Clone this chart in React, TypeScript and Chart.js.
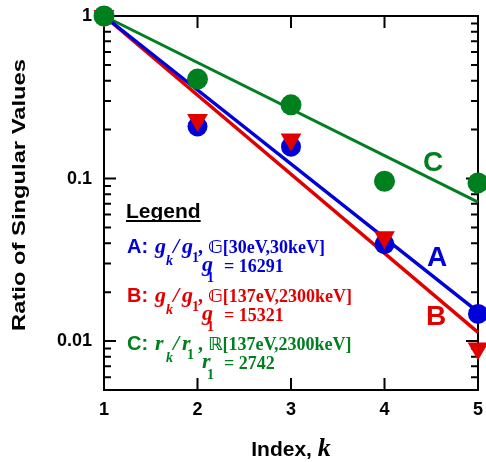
import React, { useEffect, useRef } from 'react';
import { Chart, registerables } from 'chart.js';

Chart.register(...registerables);

// ---- data ----
const indices = [1, 2, 3, 4, 5];
const ratioA = [1, 0.209, 0.157, 0.0394, 0.0147];
const ratioB = [1, 0.229, 0.174, 0.0436, 0.009];
const ratioC = [1, 0.409, 0.284, 0.0962, 0.094];
const fitK = [1, 5];
const fitA = [1, 0.0151];
const fitB = [1, 0.0113];
const fitC = [1, 0.0716];
const xTickValues = [1, 2, 3, 4, 5];
const yTickValues = [0.01, 0.1, 1];
const seriesLetters = ['A', 'B', 'C'];
const varLetters = ['g', 'g', 'r'];
const spaceLabels = ['\u{1D53E}[30eV,30keV]', '\u{1D53E}[137eV,2300keV]', '\u211D[137eV,2300keV]'];
const firstValues = ['16291', '15321', '2742'];

const BLUE = '#0000d8';
const RED = '#e00000';
const GREEN = '#007f1f';
const seriesColors = [BLUE, RED, GREEN];

const SANS = "'Liberation Sans', Arial, Helvetica, sans-serif";
const SERIF = "'Liberation Serif', 'Times New Roman', 'DejaVu Serif', 'DejaVu Sans', serif";

const pts = (xs: number[], ys: number[]) => xs.map((x, i) => ({ x, y: ys[i] }));

function txt(ctx: CanvasRenderingContext2D, s: string, x: number, y: number, font: string, color: string, align: CanvasTextAlign = 'left') {
  ctx.font = font;
  ctx.fillStyle = color;
  ctx.textAlign = align;
  ctx.textBaseline = 'alphabetic';
  ctx.fillText(s, x, y);
}

const decoPlugin = {
  id: 'deco',
  beforeDatasetsDraw(chart: any) {
    const { ctx, chartArea: a, scales } = chart;
    const xs = scales.x;
    const ys = scales.y;
    ctx.save();
    ctx.strokeStyle = '#000';
    ctx.lineWidth = 2;
    ctx.strokeRect(a.left, a.top, a.right - a.left, a.bottom - a.top);
    ctx.beginPath();
    for (const v of yTickValues) {
      const p = ys.getPixelForValue(v);
      ctx.moveTo(a.left, p); ctx.lineTo(a.left + 12, p);
      ctx.moveTo(a.right, p); ctx.lineTo(a.right - 12, p);
    }
    for (const d of [0.001, 0.01, 0.1]) {
      for (let m = 2; m <= 9; m++) {
        const v = m * d;
        if (v <= ys.min * 1.0001 || v >= ys.max) continue;
        const p = ys.getPixelForValue(v);
        ctx.moveTo(a.left, p); ctx.lineTo(a.left + 7, p);
        ctx.moveTo(a.right, p); ctx.lineTo(a.right - 7, p);
      }
    }
    for (const v of xTickValues) {
      if (v <= xs.min || v >= xs.max) continue;
      const p = xs.getPixelForValue(v);
      ctx.moveTo(p, a.bottom); ctx.lineTo(p, a.bottom - 12);
      ctx.moveTo(p, a.top); ctx.lineTo(p, a.top + 12);
    }
    ctx.stroke();
    ctx.restore();
  },
  afterDraw(chart: any) {
    const { ctx, chartArea: a } = chart;
    ctx.save();
    // y-axis title
    ctx.save();
    const cy = (a.top + a.bottom) / 2 - 8;
    ctx.translate(20, cy);
    ctx.rotate(-Math.PI / 2);
    ctx.font = `bold 19px ${SANS}`;
    const tw = ctx.measureText('Ratio of Singular Values').width;
    ctx.scale(272 / tw, 1);
    ctx.fillStyle = '#000';
    ctx.textAlign = 'center';
    ctx.textBaseline = 'middle';
    ctx.fillText('Ratio of Singular Values', 0, 0);
    ctx.restore();

    // x-axis title
    const cx = (a.left + a.right) / 2;
    ctx.font = `bold 21px ${SANS}`;
    const w1 = ctx.measureText('Index, ').width;
    ctx.font = `italic bold 26px ${SERIF}`;
    const w2 = ctx.measureText('k').width;
    const sx = cx - (w1 + w2) / 2;
    txt(ctx, 'Index, ', sx, 456, `bold 21px ${SANS}`, '#000');
    txt(ctx, 'k', sx + w1, 456, `italic bold 26px ${SERIF}`, '#000');

    // legend block
    txt(ctx, 'Legend', 126, 218, `bold 21px ${SANS}`, '#000');
    ctx.font = `bold 21px ${SANS}`;
    const lw = ctx.measureText('Legend').width;
    ctx.fillStyle = '#000';
    ctx.fillRect(126, 220, lw, 2);

    const x0 = 127;
    const baselines = [253, 302, 350];
    for (let i = 0; i < 3; i++) {
      const b = baselines[i];
      const c = seriesColors[i];
      const v = varLetters[i];
      const italic = `italic bold 22px ${SERIF}`;
      const sub = `italic bold 14px ${SERIF}`;
      const subN = `bold 14px ${SERIF}`;
      txt(ctx, seriesLetters[i] + ':', x0, b, `bold 20px ${SANS}`, c);
      txt(ctx, v, x0 + 28, b, italic, c);
      txt(ctx, 'k', x0 + 39, b + 12, sub, c);
      txt(ctx, '/', x0 + 46, b, italic, c);
      txt(ctx, v, x0 + 55, b, italic, c);
      txt(ctx, '1', x0 + (v === 'r' ? 60 : 65), b + 9, subN, c);
      txt(ctx, ',', x0 + 71, b, `bold 20px ${SERIF}`, c);
      txt(ctx, spaceLabels[i], x0 + 81, b, `bold 18px ${SERIF}`, c);
      txt(ctx, v, x0 + 75, b + 18, italic, c);
      txt(ctx, '1', x0 + 80, b + 29, subN, c);
      txt(ctx, '= ' + firstValues[i], x0 + 97, b + 19, `bold 18px ${SERIF}`, c);
    }

    // curve labels
    txt(ctx, 'A', 437, 266, `bold 28px ${SANS}`, BLUE, 'center');
    txt(ctx, 'B', 436, 325, `bold 28px ${SANS}`, RED, 'center');
    txt(ctx, 'C', 433, 171, `bold 28px ${SANS}`, GREEN, 'center');
    ctx.restore();
  },
};

export default function App() {
  const ref = useRef<HTMLCanvasElement | null>(null);
  useEffect(() => {
    if (!ref.current) return;
    const chart = new Chart(ref.current, {
      type: 'scatter',
      data: {
        datasets: [
          {
            label: 'C points', data: pts(indices, ratioC), backgroundColor: GREEN, borderColor: GREEN,
            pointRadius: 10.5, pointStyle: 'circle', borderWidth: 0, showLine: false, clip: false, order: 0,
          } as any,
          {
            label: 'B points', data: pts(indices, ratioB), backgroundColor: RED, borderColor: RED,
            pointRadius: 12, pointStyle: 'triangle', rotation: 180, borderWidth: 0, showLine: false, clip: false, order: 1,
          },
          {
            label: 'A points', data: pts(indices, ratioA), backgroundColor: BLUE, borderColor: BLUE,
            pointRadius: 10, pointStyle: 'circle', borderWidth: 0, showLine: false, clip: false, order: 2,
          },
          {
            label: 'A fit', data: pts(fitK, fitA), borderColor: BLUE, backgroundColor: BLUE,
            showLine: true, pointRadius: 0, borderWidth: 3.5, clip: false, order: 3,
          },
          {
            label: 'B fit', data: pts(fitK, fitB), borderColor: RED, backgroundColor: RED,
            showLine: true, pointRadius: 0, borderWidth: 3.5, clip: false, order: 4,
          },
          {
            label: 'C fit', data: pts(fitK, fitC), borderColor: GREEN, backgroundColor: GREEN,
            showLine: true, pointRadius: 0, borderWidth: 3, clip: false, order: 5,
          },
        ],
      },
      options: {
        animation: false,
        responsive: false,
        devicePixelRatio: 1,
        layout: { autoPadding: false, padding: { left: 0, right: 8, top: 16, bottom: 0 } },
        plugins: { legend: { display: false }, tooltip: { enabled: false }, title: { display: false } },
        scales: {
          x: {
            type: 'linear', min: 1, max: 5,
            afterBuildTicks: (s: any) => { s.ticks = xTickValues.map((value) => ({ value })); },
            afterFit: (s: any) => { s.height = 72; s.paddingLeft = 0; s.paddingRight = 0; },
            grid: { display: false, drawTicks: false },
            border: { display: false },
            ticks: { color: '#000', font: { family: SANS, size: 18, weight: 'bold' }, padding: 9, callback: (v: any) => String(v) },
          },
          y: {
            type: 'logarithmic', min: 0.005, max: 1,
            afterBuildTicks: (s: any) => { s.ticks = yTickValues.map((value) => ({ value })); },
            afterFit: (s: any) => { s.width = 104; s.paddingTop = 0; s.paddingBottom = 0; },
            grid: { display: false, drawTicks: false },
            border: { display: false },
            ticks: { color: '#000', font: { family: SANS, size: 18, weight: 'bold' }, padding: 12, callback: (v: any) => String(v) },
          },
        },
      } as any,
      plugins: [decoPlugin],
    });
    return () => chart.destroy();
  }, []);
  return (
    <div style={{ position: 'fixed', left: 0, top: 0, width: 486, height: 462, background: '#fff' }}>
      <canvas ref={ref} width={486} height={462} style={{ width: 486, height: 462, display: 'block' }} />
    </div>
  );
}
